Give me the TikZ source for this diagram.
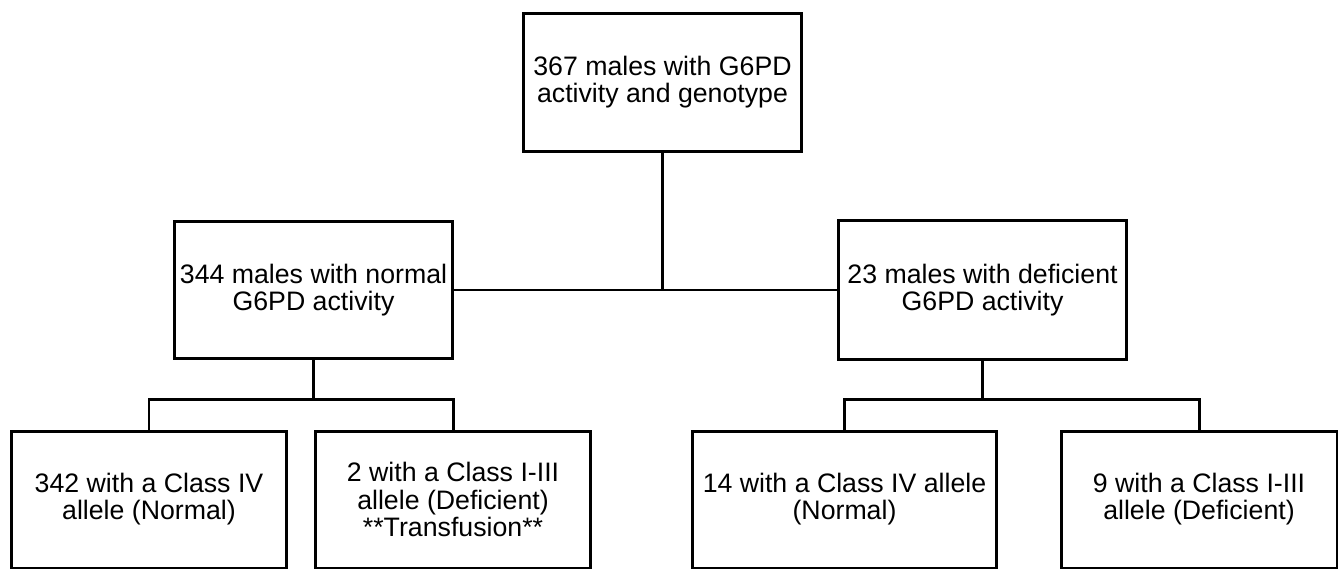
\documentclass[tikz,border=0pt]{standalone}
\usepackage{fontspec}
\setmainfont{Liberation Sans}
\begin{document}
\begin{tikzpicture}[x=0.02cm,y=-0.02cm]
      \clip (0,0) rectangle (1344,568);
      \begin{scope}[every node/.style={rectangle,draw,line width=1.7pt,inner sep=0pt,
          align=center,font=\fontsize{15.2}{15.4}\selectfont}]
        \node[minimum width=5.58cm,minimum height=2.78cm] (top) at (662.5,82.5)
          {367 males with G6PD\\activity and genotype};
        \node[minimum width=5.58cm,minimum height=2.74cm] (lmid) at (313.5,290)
          {344 males with normal\\G6PD activity};
        \node[minimum width=5.78cm,minimum height=2.80cm] (rmid) at (982.5,290)
          {23 males with deficient\\G6PD activity};
        \node[minimum width=5.52cm,minimum height=2.74cm] (la) at (149,499.5)
          {342 with a Class IV\\allele (Normal)};
        \node[minimum width=5.52cm,minimum height=2.74cm] (lb) at (453,499.5)
          {2 with a Class I-III\\allele (Deficient)\\**Transfusion**};
        \node[minimum width=6.10cm,minimum height=2.74cm] (ra) at (844.5,499.5)
          {14 with a Class IV allele\\(Normal)};
        \node[minimum width=5.52cm,minimum height=2.74cm] (rb) at (1199,499.5)
          {9 with a Class I-III\\allele (Deficient)};
      \end{scope}
      \coordinate (tj) at (662.5,290);
      \coordinate (lj) at (313.5,399);
      \coordinate (lja) at (149,399);
      \coordinate (ljb) at (453,399);
      \coordinate (rj) at (982.5,399);
      \coordinate (rja) at (844.5,399);
      \coordinate (rjb) at (1199,399);
      \begin{scope}[line width=1.7pt,every edge/.style={draw=black,line width=1.7pt,line cap=rect}]
        \path (top) edge (tj)
              (lmid) edge (rmid)
              (lmid) edge (lj)
              (lja) edge (ljb)
              (lja) edge (la)
              (ljb) edge (lb)
              (rmid) edge (rj)
              (rja) edge (rjb)
              (rja) edge (ra)
              (rjb) edge (rb);
      \end{scope}
    \end{tikzpicture}
\end{document}
